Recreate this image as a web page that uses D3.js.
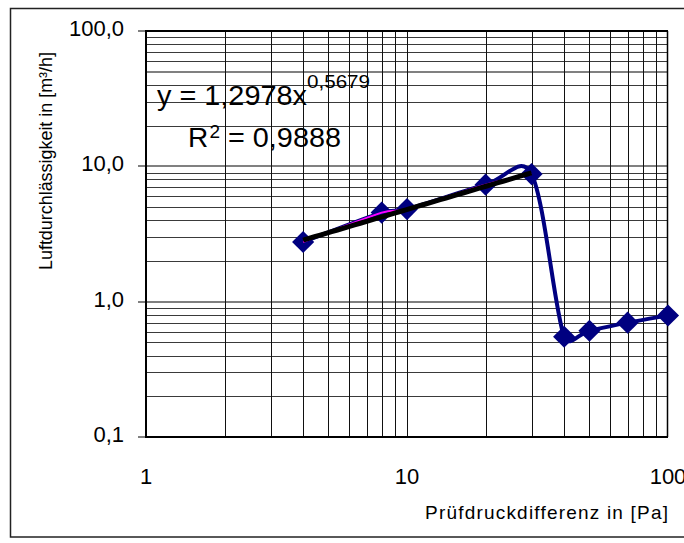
<!DOCTYPE html>
<html>
<head>
<meta charset="utf-8">
<script src="https://cdn.jsdelivr.net/npm/d3@7"></script>
<style>
  html, body { margin: 0; padding: 0; background: #fff; overflow: hidden; }
  svg { display: block; font-family: "Liberation Sans", Arial, sans-serif; }
</style>
</head>
<body>
<svg id="chart" width="684" height="543"></svg>
<script>
// ---- data ----
const pressure = [4, 8, 10, 20, 30, 40, 50, 70, 100];          // Prüfdruckdifferenz [Pa]
const flow     = [2.76, 4.55, 4.83, 7.32, 8.76, 0.55, 0.61, 0.70, 0.79]; // Luftdurchlässigkeit [m³/h]
const fitPressure = [4, 8, 10, 20, 30];                         // points used for the power fit
const fitCoef = [1.2978];                                        // y = a * x^b
const fitExp  = [0.5679];
const xTicks = [1, 10, 100];
const xTickLabels = ["1", "10", "100"];
const yTicks = [0.1, 1, 10, 100];
const yTickLabels = ["0,1", "1,0", "10,0", "100,0"];
const eqText = ["y = 1,2978x", "0,5679"];
const r2Text = ["R", "2", "= 0,9888"];

// ---- layout ----
const svg = d3.select("#chart");
const L = 146, R = 668, T = 31, B = 437;
const x = d3.scaleLog().domain([1, 100]).range([L, R]);
const y = d3.scaleLog().domain([0.1, 100]).range([B, T]);

// outer chart border
svg.append("rect").attr("x", 10.5).attr("y", 8.5).attr("width", 700).attr("height", 528.5)
  .attr("fill", "none").attr("stroke", "#222").attr("stroke-width", 1.5);

const decadesX = [1, 10];
const xGrid = [];
decadesX.forEach(d => { for (let k = 2; k <= 10; k++) xGrid.push(d * k); });
const decadesY = [0.1, 1, 10];
const yGrid = [];
decadesY.forEach(d => { for (let k = 2; k <= 9; k++) yGrid.push(d * k); });
const yMajor = [1, 10];

const g = svg.append("g");
g.selectAll("line.hmin").data(yGrid.filter(v => v !== 50)).enter().append("line")
  .attr("x1", L).attr("x2", R)
  .attr("y1", d => Math.round(y(d)) + 0.5).attr("y2", d => Math.round(y(d)) + 0.5)
  .attr("stroke", "#3a3a3a").attr("stroke-width", 1);
g.selectAll("line.hmaj").data(yMajor.concat([50])).enter().append("line")
  .attr("x1", L).attr("x2", R)
  .attr("y1", d => Math.round(y(d))).attr("y2", d => Math.round(y(d)))
  .attr("stroke", "#808080").attr("stroke-width", 2);
g.selectAll("line.v").data(xGrid.filter(v => v < 100)).enter().append("line")
  .attr("y1", T).attr("y2", B)
  .attr("x1", d => Math.round(x(d)) + 0.5).attr("x2", d => Math.round(x(d)) + 0.5)
  .attr("stroke", "#111").attr("stroke-width", 1);

// plot frame
svg.append("line").attr("x1", L).attr("x2", R).attr("y1", T).attr("y2", T).attr("stroke", "#000").attr("stroke-width", 2);
svg.append("line").attr("x1", R - 0.5).attr("x2", R - 0.5).attr("y1", T).attr("y2", B).attr("stroke", "#000").attr("stroke-width", 1.5);

// y ticks
svg.selectAll("line.yt").data(yTicks).enter().append("line")
  .attr("x1", L - 8).attr("x2", L)
  .attr("y1", d => Math.round(y(d))).attr("y2", d => Math.round(y(d)))
  .attr("stroke", "#808080").attr("stroke-width", 2);

// axes lines
svg.append("line").attr("x1", L).attr("x2", L).attr("y1", T - 1).attr("y2", B + 1).attr("stroke", "#000").attr("stroke-width", 2);
svg.append("line").attr("x1", L).attr("x2", R).attr("y1", B).attr("y2", B).attr("stroke", "#000").attr("stroke-width", 2);

// tick labels
svg.selectAll("text.yl").data(yTicks).enter().append("text")
  .attr("x", 124).attr("y", d => y(d) + 5)
  .attr("text-anchor", "end").attr("font-size", 22).attr("fill", "#000")
  .text((d, i) => yTickLabels[i]);
svg.selectAll("text.xl").data(xTicks).enter().append("text")
  .attr("x", d => x(d)).attr("y", 484)
  .attr("text-anchor", "middle").attr("font-size", 22).attr("fill", "#000")
  .text((d, i) => xTickLabels[i]);

// axis titles
svg.append("text").attr("x", 425).attr("y", 519).attr("font-size", 19)
  .attr("textLength", 243).attr("lengthAdjust", "spacing")
  .text("Prüfdruckdifferenz in [Pa]");
svg.append("text").attr("transform", "translate(51.5,161) rotate(-90)")
  .attr("text-anchor", "middle").attr("font-size", 18)
  .attr("textLength", 218).attr("lengthAdjust", "spacingAndGlyphs")
  .text("Luftdurchlässigkeit in [m³/h]");

const pts = pressure.map((p, i) => ({ p, v: flow[i] }));

// Excel-like smoothed line: Catmull-Rom tangents with control arms clamped
function smoothPath(data) {
  const P = data.map(d => [x(d.p), y(d.v)]);
  const n = P.length;
  const path = d3.path();
  path.moveTo(P[0][0], P[0][1]);
  for (let i = 0; i < n - 1; i++) {
    const a = P[i], b = P[i + 1];
    const prev = P[Math.max(0, i - 1)], next = P[Math.min(n - 1, i + 2)];
    const seg = Math.hypot(b[0] - a[0], b[1] - a[1]);
    let t1 = [(b[0] - prev[0]) / 6, (b[1] - prev[1]) / 6];
    let t2 = [(next[0] - a[0]) / 6, (next[1] - a[1]) / 6];
    const lim = seg * 0.5;
    const l1 = Math.hypot(t1[0], t1[1]), l2 = Math.hypot(t2[0], t2[1]);
    if (l1 > lim) { t1 = [t1[0] * lim / l1, t1[1] * lim / l1]; }
    if (l2 > lim) { t2 = [t2[0] * lim / l2, t2[1] * lim / l2]; }
    path.bezierCurveTo(a[0] + t1[0], a[1] + t1[1], b[0] - t2[0], b[1] - t2[1], b[0], b[1]);
  }
  return path.toString();
}

// navy smoothed series line
svg.append("path").attr("d", smoothPath(pts))
  .attr("fill", "none").attr("stroke", "#000080").attr("stroke-width", 4)
  .attr("stroke-linejoin", "round");

// markers
svg.selectAll("path.mk").data(pts).enter().append("path")
  .attr("d", d3.symbol(d3.symbolSquare, 245)())
  .attr("transform", d => `translate(${x(d.p)},${y(d.v)}) rotate(45)`)
  .attr("fill", "#000080");

// magenta line through fitted points
const fitPts = pts.filter(d => fitPressure.includes(d.p));
svg.append("path").attr("d", smoothPath(fitPts))
  .attr("fill", "none").attr("stroke", "#ff00ff").attr("stroke-width", 2);

// power trendline
const x0 = d3.min(fitPressure), x1 = d3.max(fitPressure);
const trend = d3.range(0, 41).map(i => {
  const p = x0 * Math.pow(x1 / x0, i / 40);
  return { p, v: fitCoef[0] * Math.pow(p, fitExp[0]) };
});
svg.append("path").datum(trend)
  .attr("d", d3.line().x(d => x(d.p)).y(d => y(d.v)))
  .attr("fill", "none").attr("stroke", "#000").attr("stroke-width", 5);

// equation
svg.append("text").attr("x", 157).attr("y", 105).attr("font-size", 28)
  .attr("textLength", 150).attr("lengthAdjust", "spacingAndGlyphs").text(eqText[0]);
svg.append("text").attr("x", 307).attr("y", 88).attr("font-size", 19)
  .attr("textLength", 63).attr("lengthAdjust", "spacingAndGlyphs").text(eqText[1]);
svg.append("text").attr("x", 188).attr("y", 147).attr("font-size", 28).text(r2Text[0]);
svg.append("text").attr("x", 209.5).attr("y", 138).attr("font-size", 19).text(r2Text[1]);
svg.append("text").attr("x", 228).attr("y", 147).attr("font-size", 28)
  .attr("textLength", 113).attr("lengthAdjust", "spacingAndGlyphs").text(r2Text[2]);
</script>
</body>
</html>
